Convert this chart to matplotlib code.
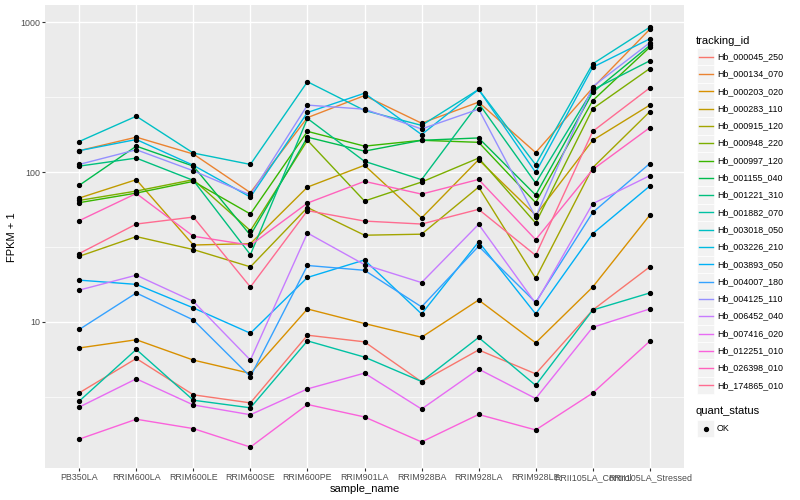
import numpy as np
import matplotlib
matplotlib.use('Agg')
from matplotlib import pyplot as plt
from matplotlib.patches import Rectangle
from matplotlib.lines import Line2D
from matplotlib.ticker import NullFormatter

plt.rcParams['font.family'] = ['Liberation Sans', 'DejaVu Sans']

# samples on the x axis
samples = ['PB350LA', 'RRIM600LA', 'RRIM600LE', 'RRIM600SE', 'RRIM600PE',
           'RRIM901LA', 'RRIM928BA', 'RRIM928LA', 'RRIM928LE',
           'RRII105LA_Control', 'RRII105LA_Stressed']

# FPKM + 1 per tracking id
hb_000045_250 = [3.36, 5.7, 3.26, 2.88, 8.15, 7.36, 3.98, 6.5, 4.5, 12.0, 23.3]
hb_000134_070 = [139, 171, 132, 72.9, 231, 324, 212, 293, 135, 365, 898]
hb_000203_020 = [6.7, 7.6, 5.56, 4.53, 12.2, 9.75, 7.9, 14.0, 7.25, 17.1, 51.6]
hb_000283_110 = [67.1, 89, 32.6, 33.3, 79.4, 111, 49.4, 121, 51.6, 163, 280]
hb_000915_120 = [27.4, 37.1, 30.4, 23.3, 58, 37.9, 38.5, 79.4, 19.5, 107, 253]
hb_000948_220 = [64.7, 74.7, 89, 40.6, 163, 64.1, 85.8, 124, 45.7, 265, 491]
hb_000997_120 = [62.5, 72.4, 86.7, 52.5, 187, 149, 163, 158, 62.5, 300, 681]
hb_001155_040 = [81.6, 149, 109.6, 37.9, 171, 138, 163, 169, 70.3, 340, 700]
hb_001221_310 = [109.6, 124, 88, 28.1, 228, 118, 89, 288, 84.5, 354, 553]
hb_001882_070 = [2.96, 6.55, 3.0, 2.67, 7.47, 5.82, 4.0, 7.87, 3.77, 12.0, 15.6]
hb_003018_050 = [160, 236, 134, 112.5, 401, 258, 205, 356, 112, 528, 927]
hb_003226_210 = [139, 165, 111, 68.1, 250, 336, 178, 356, 99.5, 501, 775]
hb_003893_050 = [19.0, 17.8, 12.4, 8.4, 19.8, 25.9, 11.3, 34.2, 11.3, 38.8, 80.7]
hb_004007_180 = [8.9, 15.6, 10.3, 4.31, 23.8, 22.1, 12.6, 32, 13.5, 53.8, 114]
hb_004125_110 = [112.5, 141, 102, 70.3, 280, 263, 194, 263, 50.1, 372, 730]
hb_006452_040 = [16.3, 20.5, 13.7, 5.56, 39.2, 24.1, 18.3, 44.8, 13.3, 61.5, 94.6]
hb_007416_020 = [2.70, 4.17, 2.79, 2.4, 3.57, 4.55, 2.62, 4.84, 3.08, 9.2, 12.2]
hb_012251_010 = [1.65, 2.24, 1.94, 1.46, 2.81, 2.32, 1.58, 2.41, 1.9, 3.35, 7.43]
hb_026398_010 = [47.4, 72, 37.3, 32.5, 62.1, 86.7, 71.3, 89.3, 35.4, 104, 198]
hb_174865_010 = [28.6, 45, 50.1, 17.1, 55.3, 47.1, 45, 56.4, 27.8, 187, 365]

tracking_ids = ['Hb_000045_250', 'Hb_000134_070', 'Hb_000203_020', 'Hb_000283_110',
                'Hb_000915_120', 'Hb_000948_220', 'Hb_000997_120', 'Hb_001155_040',
                'Hb_001221_310', 'Hb_001882_070', 'Hb_003018_050', 'Hb_003226_210',
                'Hb_003893_050', 'Hb_004007_180', 'Hb_004125_110', 'Hb_006452_040',
                'Hb_007416_020', 'Hb_012251_010', 'Hb_026398_010', 'Hb_174865_010']
series = [hb_000045_250, hb_000134_070, hb_000203_020, hb_000283_110,
          hb_000915_120, hb_000948_220, hb_000997_120, hb_001155_040,
          hb_001221_310, hb_001882_070, hb_003018_050, hb_003226_210,
          hb_003893_050, hb_004007_180, hb_004125_110, hb_006452_040,
          hb_007416_020, hb_012251_010, hb_026398_010, hb_174865_010]

# ggplot hue palette, 20 levels
colors = ['#F8766D', '#EA8331', '#D89000', '#C09B00', '#A3A500', '#7CAE00',
          '#39B600', '#00BB4E', '#00BF7D', '#00C1A3', '#00BFC4', '#00BAE0',
          '#00B0F6', '#35A2FF', '#9590FF', '#C77CFF', '#E76BF3', '#FA62DB',
          '#FF62BC', '#FF6C91']

W, H = 800, 500
fig = plt.figure(figsize=(8, 5), dpi=100)
fig.patch.set_facecolor('white')

# panel in pixels: x 45..684, y 5.5..468 (from top)
ax = fig.add_axes([45 / W, (H - 468) / H, (684 - 45) / W, (468 - 5.5) / H])
ax.set_facecolor('#EBEBEB')
for s in ax.spines.values():
    s.set_visible(False)

x = np.arange(len(samples))
for vals, c in zip(series, colors):
    ax.plot(x, vals, color=c, lw=1.0, zorder=2)
for vals in series:
    ax.plot(x, vals, ls='none', marker='o', ms=2.8, color='black', zorder=3)

ax.set_yscale('log')
ax.set_ylim(10 ** 0.0247, 10 ** 3.112)
ax.set_xlim(-0.6, len(samples) - 0.4)

ax.set_yticks([10, 100, 1000])
ax.set_yticklabels(['10', '100', '1000'])
ax.set_yticks([10 ** 0.5, 10 ** 1.5, 10 ** 2.5], minor=True)
ax.yaxis.set_minor_formatter(NullFormatter())
ax.set_xticks(x)
ax.set_xticklabels(samples)

ax.set_axisbelow(True)
ax.grid(which='major', color='white', lw=1.0)
ax.grid(which='minor', axis='y', color='white', lw=0.5)
ax.tick_params(which='minor', length=0)
ax.tick_params(which='major', length=2, width=0.8, color='#333333',
               labelsize=6.4, labelcolor='#4D4D4D', pad=1.5)

# axis titles
fig.text((45 + 684) / 2 / W, 1 - 489 / H, 'sample_name', ha='center', va='center',
         fontsize=8, color='black')
fig.text(12 / W, 1 - 236.75 / H, 'FPKM + 1', ha='center', va='center',
         rotation=90, fontsize=8, color='black')

# legend: tracking_id
fig.text(696 / W, 1 - 40.5 / H, 'tracking_id', ha='left', va='center', fontsize=8)
key = 17.3
for i, (name, c) in enumerate(zip(tracking_ids, colors)):
    yc = 56.7 + i * key
    fig.add_artist(Rectangle((697 / W, 1 - (yc + key / 2) / H), key / W, key / H,
                             transform=fig.transFigure, facecolor='#F2F2F2',
                             edgecolor='white', lw=0.5))
    fig.add_artist(Line2D([699 / W, 713 / W], [1 - yc / H, 1 - yc / H],
                          transform=fig.transFigure, color=c, lw=1.0))
    fig.text(717 / W, 1 - yc / H, name, ha='left', va='center', fontsize=6.4)

# legend: quant_status
fig.text(696 / W, 1 - 411.5 / H, 'quant_status', ha='left', va='center', fontsize=8)
yc = 428.5
fig.add_artist(Rectangle((697 / W, 1 - (yc + key / 2) / H), key / W, key / H,
                         transform=fig.transFigure, facecolor='#F2F2F2',
                         edgecolor='white', lw=0.5))
fig.add_artist(Line2D([705.5 / W], [1 - yc / H], transform=fig.transFigure,
                      ls='none', marker='o', ms=2.8, color='black'))
fig.text(717 / W, 1 - yc / H, 'OK', ha='left', va='center', fontsize=6.4)

fig.savefig('out.png', dpi=100)
